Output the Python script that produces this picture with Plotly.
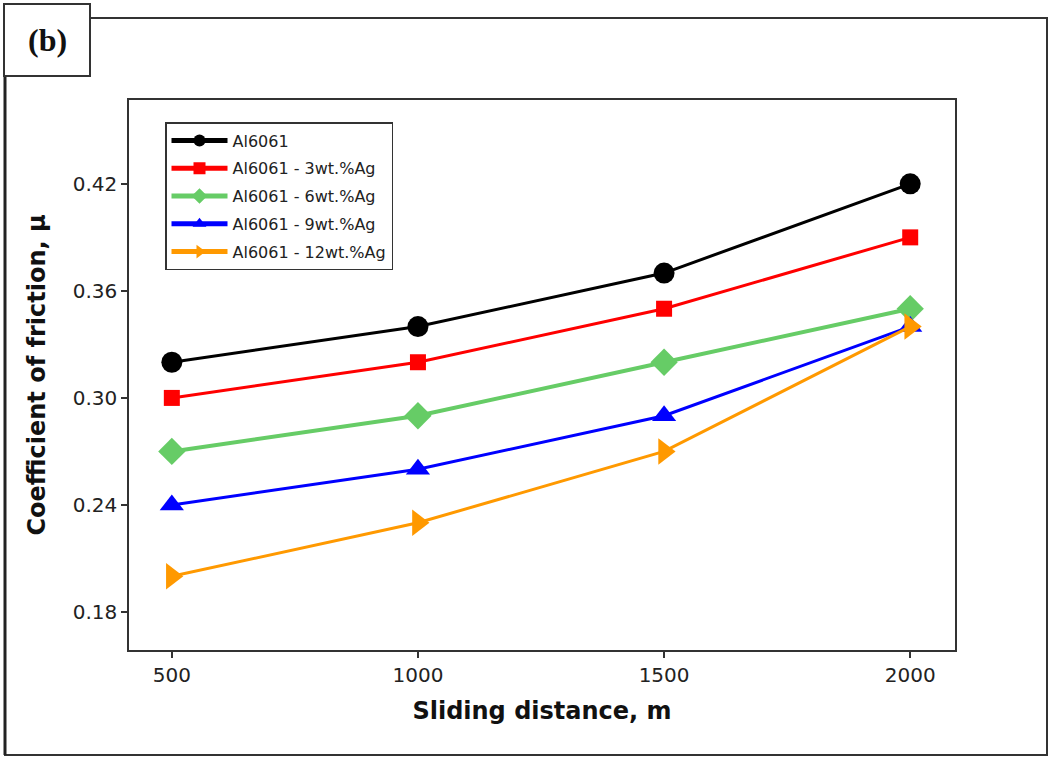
import plotly.graph_objects as go

# Sliding wear test: coefficient of friction vs sliding distance
distance = [500, 1000, 1500, 2000]

series_names = [
    "Al6061",
    "Al6061 - 3wt.%Ag",
    "Al6061 - 6wt.%Ag",
    "Al6061 - 9wt.%Ag",
    "Al6061 - 12wt.%Ag",
]
cof_al6061 = [0.32, 0.34, 0.37, 0.42]
cof_3ag = [0.30, 0.32, 0.35, 0.39]
cof_6ag = [0.27, 0.29, 0.32, 0.35]
cof_9ag = [0.24, 0.26, 0.29, 0.34]
cof_12ag = [0.20, 0.23, 0.27, 0.34]

y_ticks = [0.18, 0.24, 0.30, 0.36, 0.42]
x_ticks = [500, 1000, 1500, 2000]

styles = [
    dict(color="#000000", symbol="circle", size=21, width=3),
    dict(color="#ff0000", symbol="square", size=16, width=3),
    dict(color="#66cc66", symbol="diamond", size=21, width=4),
    dict(color="#0000ff", symbol="triangle-up", size=21, width=3),
    dict(color="#ff9900", symbol="triangle-right", size=23, width=3),
]

fig = go.Figure()
for i, (name, vals, st) in enumerate(zip(series_names,
                                         [cof_al6061, cof_3ag, cof_6ag, cof_9ag, cof_12ag],
                                         styles)):
    fig.add_trace(go.Scatter(
        x=distance, y=vals, name=name, mode="lines+markers",
        legendgroup=f"g{i}",
        line=dict(color=st["color"], width=st["width"]),
        marker=dict(color=st["color"], symbol=st["symbol"], size=st["size"],
                    line=dict(width=0)),
    ))

# plot area occupies pixels x 129..955, y 100..650
L, R, T, B = 129, 955, 100, 650
W, H = R - L, B - T


def px(x):
    return (x - L) / W


def py(y):
    return (B - y) / H


shapes = [
    # outer frame
    dict(type="rect", xref="paper", yref="paper",
         x0=px(5), x1=px(1047), y0=py(755), y1=py(18),
         line=dict(color="#333333", width=2), layer="below"),
    dict(type="line", xref="paper", yref="paper",
         x0=px(5), x1=px(5), y0=py(755), y1=py(18),
         line=dict(color="#222222", width=3)),
    # panel label box
    dict(type="rect", xref="paper", yref="paper",
         x0=px(4), x1=px(90), y0=py(76), y1=py(4),
         line=dict(color="#333333", width=2), fillcolor="white", layer="above"),
]

annotations = [
    dict(text="<b>(b)</b>", xref="paper", yref="paper",
         x=px(47), y=py(40), showarrow=False,
         font=dict(family="Liberation Serif", size=32, color="#111111"),
         xanchor="center", yanchor="middle"),
]

fig.update_layout(
    width=1050, height=759,
    margin=dict(l=L, r=1050 - R, t=T, b=759 - B),
    paper_bgcolor="white", plot_bgcolor="white",
    font=dict(family="DejaVu Sans", color="#222222"),
    shapes=shapes, annotations=annotations,
    showlegend=True,
    legend=dict(
        x=px(165), y=py(122), xanchor="left", yanchor="top",
        bordercolor="#333333", borderwidth=1.5, bgcolor="white",
        font=dict(family="DejaVu Sans", size=16, color="#222222"),
        itemsizing="constant", itemwidth=56, tracegroupgap=4,
    ),
    xaxis=dict(
        range=[413, 2091], tickvals=x_ticks, ticktext=[str(v) for v in x_ticks],
        showgrid=False, zeroline=False, showline=True, mirror=True,
        linecolor="#333333", linewidth=1.5,
        ticks="outside", ticklen=6, tickwidth=1.5, tickcolor="#333333",
        tickfont=dict(family="DejaVu Sans", size=20, color="#222222"),
        title=dict(text="<b>Sliding distance, m</b>", standoff=16,
                   font=dict(family="DejaVu Sans", size=24, color="#111111")),
    ),
    yaxis=dict(
        range=[0.1587, 0.467], tickvals=y_ticks,
        ticktext=[f"{v:.2f}" for v in y_ticks],
        showgrid=False, zeroline=False, showline=True, mirror=True,
        linecolor="#333333", linewidth=1.5,
        ticks="outside", ticklen=6, tickwidth=1.5, tickcolor="#333333",
        tickfont=dict(family="DejaVu Sans", size=20, color="#222222"),
        title=dict(text="<b>Coefficient of friction, μ</b>", standoff=20,
                   font=dict(family="DejaVu Sans", size=24, color="#111111")),
    ),
)

fig.write_html("out.html")
